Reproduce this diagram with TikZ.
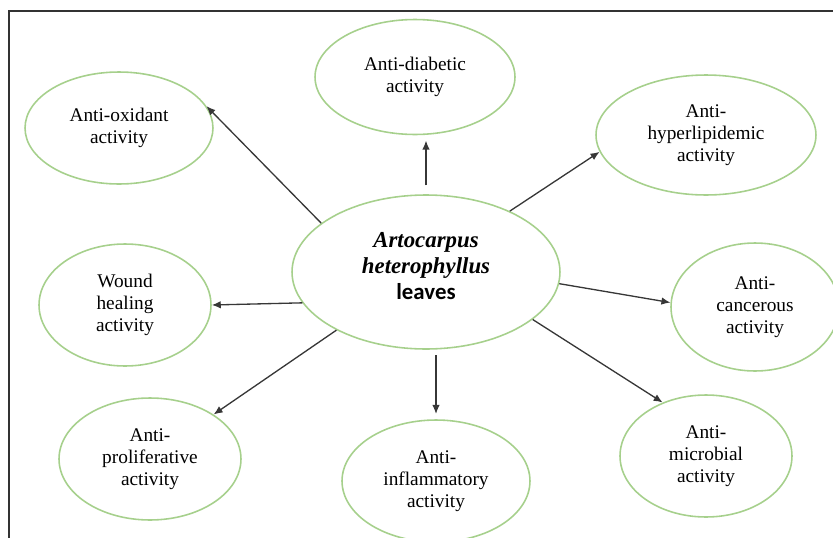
\documentclass[tikz,border=0pt]{standalone}
\usepackage{fontspec}
\setmainfont{Liberation Serif}
\newfontfamily\leaffont{Carlito}
\usetikzlibrary{arrows.meta,shapes.geometric}
\definecolor{leafgreen}{RGB}{166,208,140}
\definecolor{arrowgray}{RGB}{55,55,55}

\begin{document}
\begin{tikzpicture}[x=0.02cm, y=-0.02cm,
  bubble/.style={ellipse, draw=leafgreen, line width=0.9pt, inner sep=0pt, align=center,
    font=\fontsize{11}{12.5}\selectfont},
  arrow/.style={-{Latex[length=1.8mm, width=1.5mm]}, line width=0.75pt, draw=arrowgray},
  frame/.style={line width=1.1pt, draw=black!80}
]
\useasboundingbox (0,0) rectangle (833,538);
\draw[frame] (9,538) -- (9,11) -- (833,11);

\node[bubble, minimum width=5.36cm, minimum height=3.08cm,
  font=\fontsize{13}{15}\selectfont] (leaves) at (426,272)
  {\textbf{\textit{Artocarpus}}\\\textbf{\textit{heterophyllus}}\\{\leaffont\bfseries leaves}\\[-8pt]\mbox{}};

\node[bubble, minimum width=3.76cm, minimum height=2.24cm] (oxid) at (119,128) {Anti-oxidant\\activity};
\node[bubble, minimum width=4.0cm, minimum height=2.3cm] (diab) at (415,77) {Anti-diabetic\\activity};
\node[bubble, minimum width=4.4cm, minimum height=2.4cm] (hyper) at (706,135) {Anti-\\hyperlipidemic\\activity};
\node[bubble, minimum width=3.44cm, minimum height=2.44cm] (wound) at (125,305) {Wound\\healing\\activity};
\node[bubble, minimum width=3.36cm, minimum height=2.56cm] (cancer) at (755,307) {Anti-\\cancerous\\activity};
\node[bubble, minimum width=3.64cm, minimum height=2.44cm] (prolif) at (150,459) {Anti-\\proliferative\\activity};
\node[bubble, minimum width=3.76cm, minimum height=2.44cm] (inflam) at (436,481) {Anti-\\inflammatory\\activity};
\node[bubble, minimum width=3.44cm, minimum height=2.44cm] (microb) at (706,456) {Anti-\\microbial\\activity};

\draw[arrow] (leaves.155) -- (oxid.14);
\draw[arrow, shorten <=5pt, shorten >=3pt] (leaves.north) -- (leaves.north |- diab.south);
\draw[arrow] (leaves.36) -- (hyper.189);
\draw[arrow] (leaves.194) -- (wound.east);
\draw[arrow] (leaves.213) -- (prolif.35);
\draw[arrow, shorten <=3pt, shorten >=3pt] (inflam.north |- leaves.south) -- (inflam.north);
\draw[arrow] (leaves.-5) -- (cancer.177);
\draw[arrow] (leaves.-24) -- (microb.129);
\end{tikzpicture}
\end{document}
